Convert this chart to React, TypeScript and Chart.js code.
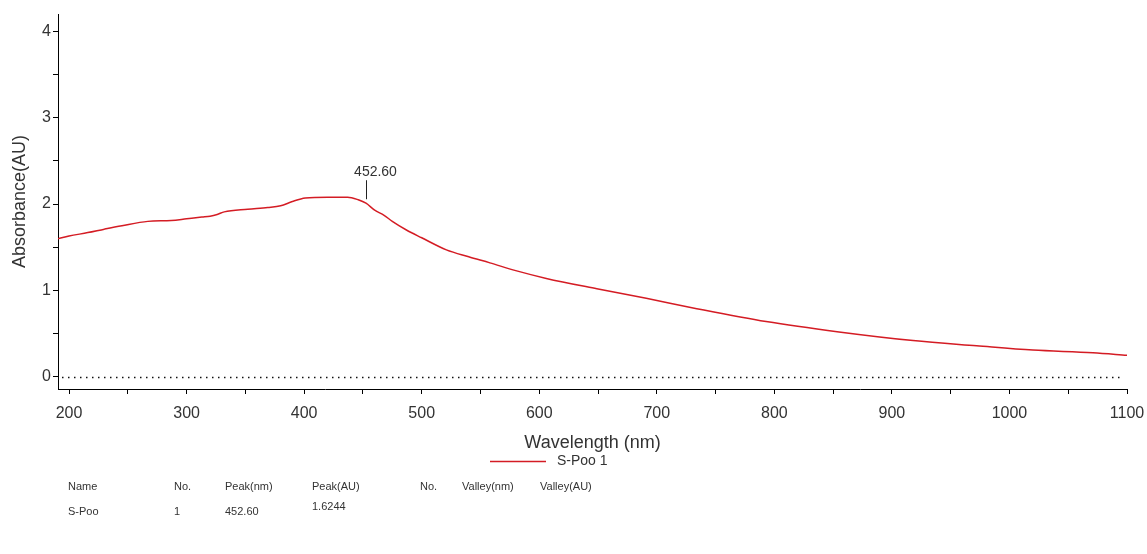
import { useEffect, useRef } from 'react';
import { Chart, registerables } from 'chart.js';

Chart.register(...registerables);

// ---- data ----
const wavelengths = [190.6, 200, 216, 230, 245, 267, 287, 300, 313, 320, 326, 332, 352, 369, 380, 390, 401, 420, 437, 446, 452.6, 460, 468, 475, 487, 500, 521, 540, 558, 580, 606, 649, 691, 734, 793, 855, 918, 972, 1020, 1071, 1100];
const absorbance = [1.60, 1.63, 1.67, 1.71, 1.75, 1.80, 1.81, 1.83, 1.85, 1.86, 1.88, 1.91, 1.94, 1.96, 1.98, 2.03, 2.07, 2.08, 2.08, 2.05, 2.01, 1.93, 1.87, 1.80, 1.70, 1.61, 1.47, 1.39, 1.32, 1.23, 1.14, 1.02, 0.91, 0.79, 0.64, 0.52, 0.42, 0.36, 0.31, 0.28, 0.25];
const seriesLabel = 'S-Poo 1';
const peakWavelength = 452.6;
const peakLabel = '452.60';
const xMin = 190.6;
const xMax = 1100;
const yMin = -0.14;
const yMax = 4.2;
const xAxisTitle = 'Wavelength (nm)';
const yAxisTitle = 'Absorbance(AU)';
const tableHeaders = ['Name', 'No.', 'Peak(nm)', 'Peak(AU)', 'No.', 'Valley(nm)', 'Valley(AU)'];
const tableRow = ['S-Poo', '1', '452.60', '1.6244', '', '', ''];

const LINE_COLOR = '#d41c24';
const TEXT_COLOR = '#333333';
const FONT = '"Liberation Sans", Arial, sans-serif';

const extrasPlugin = {
  id: 'extras',
  afterDatasetsDraw(chart: any) {
    const { ctx, chartArea, scales } = chart;
    const x = scales.x;
    const y = scales.y;
    ctx.save();
    // dotted zero line
    const y0 = Math.round(y.getPixelForValue(0)) + 0.5;
    ctx.strokeStyle = '#111';
    ctx.lineWidth = 1.5;
    ctx.setLineDash([1.5, 4.5]);
    ctx.beginPath();
    ctx.moveTo(chartArea.left + 4, y0);
    ctx.lineTo(chartArea.right - 4, y0);
    ctx.stroke();
    ctx.setLineDash([]);

    // peak marker
    const idx = wavelengths.indexOf(peakWavelength);
    const px = Math.round(x.getPixelForValue(peakWavelength)) + 0.5;
    const py = y.getPixelForValue(absorbance[idx]);
    ctx.strokeStyle = '#222';
    ctx.lineWidth = 1;
    ctx.beginPath();
    ctx.moveTo(px, py - 4);
    ctx.lineTo(px, py - 23);
    ctx.stroke();
    ctx.fillStyle = TEXT_COLOR;
    ctx.font = `14px ${FONT}`;
    ctx.textAlign = 'center';
    ctx.textBaseline = 'middle';
    ctx.fillText(peakLabel, px + 9, py - 31);

    // legend
    ctx.strokeStyle = LINE_COLOR;
    ctx.lineWidth = 1.5;
    ctx.beginPath();
    ctx.moveTo(490, 461.5);
    ctx.lineTo(546, 461.5);
    ctx.stroke();
    ctx.fillStyle = TEXT_COLOR;
    ctx.font = `14px ${FONT}`;
    ctx.textAlign = 'left';
    ctx.fillText(seriesLabel, 557, 461);

    // table
    const cols = [68, 174, 225, 312, 420, 462, 540];
    ctx.font = `11px ${FONT}`;
    tableHeaders.forEach((t, i) => ctx.fillText(t, cols[i], 487));
    tableRow.forEach((t, i) => {
      if (t) ctx.fillText(t, cols[i], i === 3 ? 507 : 512);
    });
    ctx.restore();
  },
};

export default function App() {
  const ref = useRef<HTMLCanvasElement>(null);
  useEffect(() => {
    if (!ref.current) return;
    const chart = new Chart(ref.current, {
      type: 'line',
      data: {
        datasets: [
          {
            label: seriesLabel,
            data: wavelengths.map((w, i) => ({ x: w, y: absorbance[i] })),
            borderColor: LINE_COLOR,
            borderWidth: 1.5,
            pointRadius: 0,
            fill: false,
            cubicInterpolationMode: 'monotone',
          },
        ],
      },
      options: {
        animation: false,
        responsive: false,
        devicePixelRatio: 1,
        layout: { padding: { top: 14, right: 20, bottom: 100, left: 0 } },
        plugins: { legend: { display: false }, tooltip: { enabled: false } },
        scales: {
          x: {
            type: 'linear',
            min: xMin,
            max: xMax,
            afterFit: (s: any) => { s.height = 65; s.paddingLeft = 0; s.paddingRight = 0; },
            border: { color: '#000', width: 1 },
            grid: { display: true, drawOnChartArea: false, tickLength: 5, tickColor: '#000' },
            ticks: {
              stepSize: 50,
              includeBounds: false,
              autoSkip: false,
              maxRotation: 0,
              maxTicksLimit: 100,
              padding: 10,
              color: TEXT_COLOR,
              font: { family: FONT, size: 16 },
              callback: (v: any) => (Number(v) % 100 === 0 ? String(v) : ''),
            },
            title: {
              display: true,
              text: xAxisTitle,
              color: TEXT_COLOR,
              font: { family: FONT, size: 18 },
              padding: { top: 0, bottom: 0 },
            },
          },
          y: {
            type: 'linear',
            min: yMin,
            max: yMax,
            afterFit: (s: any) => { s.width = 58; },
            border: { color: '#000', width: 1 },
            grid: { display: true, drawOnChartArea: false, tickLength: 5, tickColor: '#000' },
            ticks: {
              stepSize: 0.5,
              includeBounds: false,
              autoSkip: false,
              padding: 2,
              color: TEXT_COLOR,
              font: { family: FONT, size: 16 },
              callback: (v: any) => (Number(v) % 1 === 0 ? String(v) : ''),
            },
            title: {
              display: true,
              text: yAxisTitle,
              color: TEXT_COLOR,
              font: { family: FONT, size: 18 },
              padding: { top: 9, bottom: 0 },
            },
          },
        },
      },
      plugins: [extrasPlugin],
    } as any);
    return () => chart.destroy();
  }, []);
  return (
    <div style={{ position: 'fixed', left: 0, top: 0, width: 1147, height: 554, background: '#fff' }}>
      <canvas ref={ref} width={1147} height={554} style={{ display: 'block' }} />
    </div>
  );
}
